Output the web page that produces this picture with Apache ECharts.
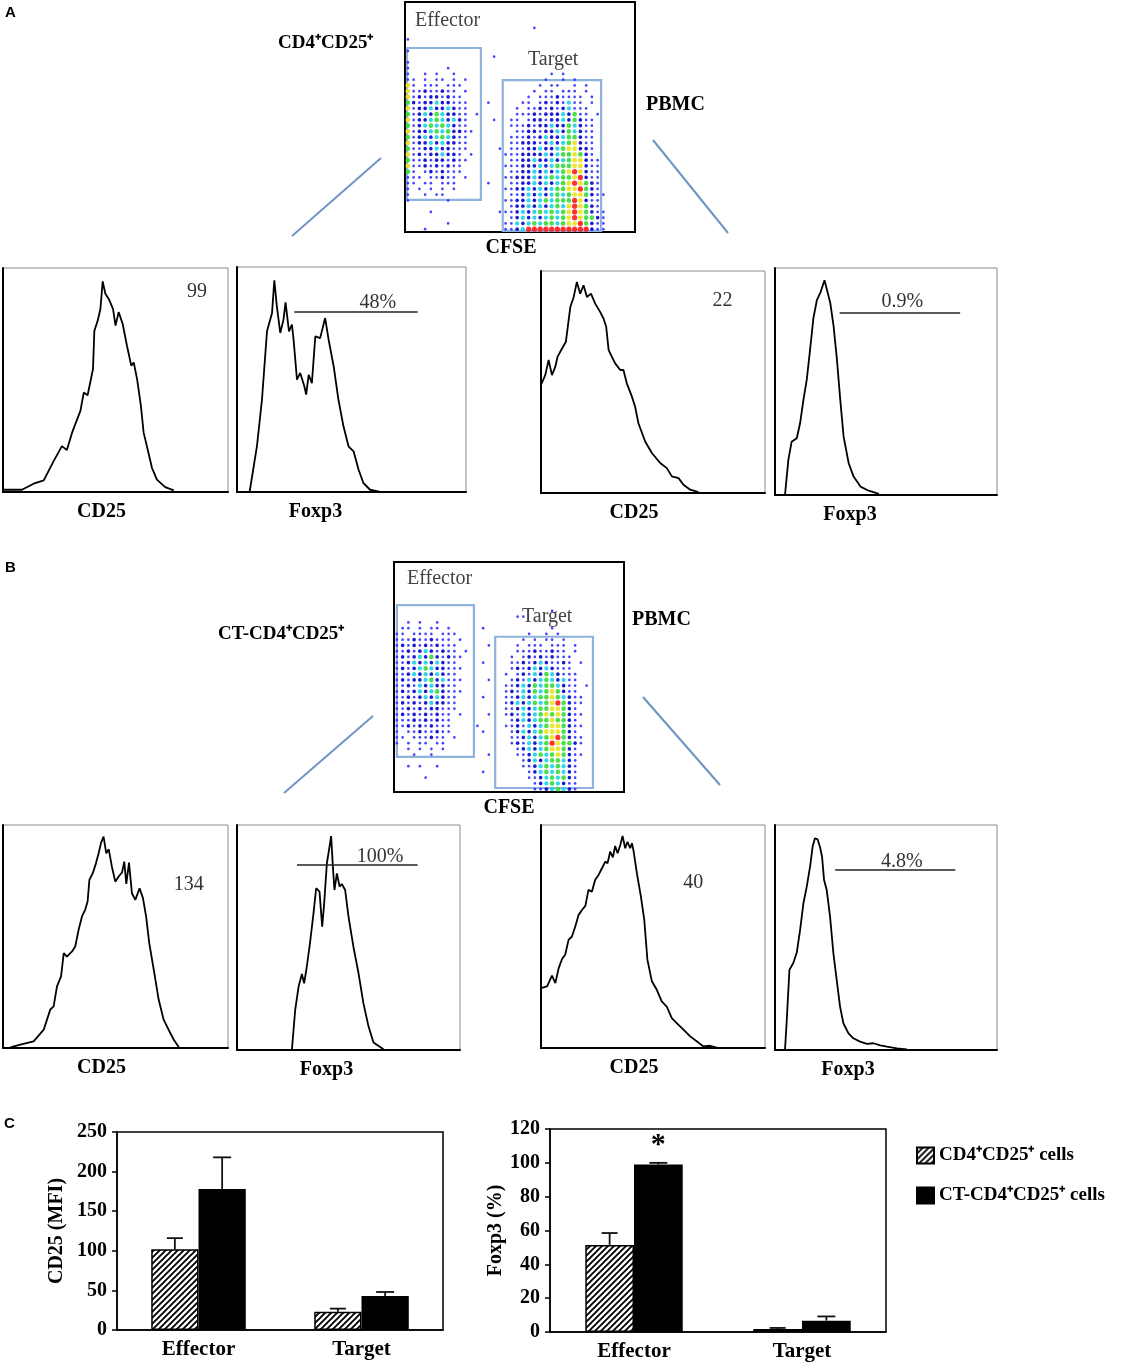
<!DOCTYPE html>
<html><head><meta charset="utf-8">
<script src="https://cdn.jsdelivr.net/npm/echarts@6/dist/echarts.min.js"></script>
<style>html,body{margin:0;padding:0;background:#fff}#c{width:1121px;height:1367px}</style>
</head><body><div id="c"></div>
<script>
// ---------------- DATA ----------------
// Histograms: [fluorescence channel (0-100 of axis), % of max]
const histA_CD25_eff = [[0,1],[8.4,1],[13.6,3.7],[18.1,5.2],[22.5,13.8],[26.2,20.5],[28.4,18.7],[30.7,26.5],[34.4,36.2],[35.9,44.4],[37.6,43.2],[40,54.9],[40.6,72],[42.1,76.5],[43.3,81.8],[44.3,94],[45.5,88.5],[47,86.2],[48.9,81.8],[50,74.3],[51.4,80.3],[53.2,75],[55.1,65.3],[57,56.4],[58.1,57.8],[59.6,50.4],[61.3,38.4],[62.5,26.5],[64.3,19],[66.2,10.8],[68.4,5.5],[72.1,2.2],[75.9,0.7]];
const histA_Foxp3_eff = [[5.5,0],[8.7,20.3],[10.9,41],[13.1,71.4],[15.3,79.6],[16.3,94.1],[17.4,82.5],[18.9,70.7],[20.3,76.6],[21.2,84.3],[22.7,71.4],[24,74.4],[24.7,67.7],[26.2,49.9],[27.6,52.9],[29.4,47],[30.2,43.3],[31.3,52.1],[32.7,48.4],[34.2,69.2],[36.3,68.4],[38.5,77.3],[40,67.7],[42.2,55.9],[44.3,41],[46.5,29.2],[48.7,20.3],[50.9,18.1],[53.1,9.9],[55.2,4],[58.1,1],[62.5,0]];
const histA_CD25_tgt = [[0,0],[0,48.7],[1.9,53.1],[3.4,59.9],[4.9,53.1],[6.4,56.9],[7.4,61.4],[9.4,65.1],[11.1,68.1],[13.1,83.8],[14.6,88.3],[16,95.1],[17.5,89.8],[19,93.6],[20.5,88.3],[22.3,89.8],[24.2,85.3],[26.4,81.6],[27.9,78.6],[29.1,74.9],[30.2,64.4],[33.1,58.4],[35.4,55.4],[36.8,55.4],[38.3,49.4],[40.6,43.4],[42,38.9],[43.5,31.4],[46.5,23.2],[49.5,18],[53.2,13.5],[56.2,11.2],[58.4,7.5],[61.4,6.7],[63.6,3.7],[66.6,1.5],[70.3,0.4]];
const histA_Foxp3_tgt = [[4.5,0],[6,15.4],[7.5,23.5],[9.8,25],[11.3,31.6],[12.8,41.9],[14.3,50.7],[15.8,64],[17.3,77.9],[18.9,86],[20.4,89],[22.3,94.6],[23.4,90.4],[24.9,84.6],[26.4,74.3],[27.9,59.6],[29.4,41.9],[30.9,25.7],[33.2,14],[35.4,8.1],[38.5,3.7],[42.2,1.9],[46.8,0.5]];
const histB_CD25_eff = [[3.3,0.3],[7.7,1.5],[13.6,3],[18.1,8.2],[21,17.2],[22.5,18.7],[24,27.6],[25.8,32.1],[27,42.5],[28.4,41],[30.7,43.3],[32.1,45.5],[33.6,53],[35.1,59],[36.6,62.2],[37.6,65.7],[38.4,75.4],[39.9,78.4],[41.3,82.8],[42.5,87.3],[43.6,92.1],[44.7,94.8],[45.9,87.3],[47,89.1],[48.4,81.3],[49.9,74.6],[51.4,76.9],[52.9,78.7],[53.9,83.6],[54.8,73.6],[56,83.1],[57.3,69.4],[58.8,66.4],[60.7,71.6],[62.2,67.2],[63.6,59],[65,47],[67,35.1],[69.2,21.6],[71.4,12.7],[73.6,8.2],[75.9,3.7],[78.1,0.4]];
const histB_Foxp3_eff = [[24.6,0],[26.1,17.8],[27.6,28.1],[29.1,33.8],[30.1,29.6],[31.3,37],[32.8,48.1],[34.3,60.7],[35.5,71.9],[37,70.4],[38.2,54.8],[39.1,65.2],[40.3,83],[41.5,90.4],[42.2,95.1],[43,81.5],[43.7,71.1],[44.8,78.5],[46,72.6],[47,73.8],[48.5,71.1],[50,59.3],[52.2,45.9],[54.5,34.1],[56.7,20.7],[59,10.4],[61.2,3.3],[65.7,0.3]];
const histB_CD25_tgt = [[0,0],[0,26.9],[2.7,27.6],[4.9,32.4],[6.4,29.1],[7.9,35.8],[9.4,39.9],[10.8,41.8],[12.3,48.5],[13.8,50],[15.3,54.5],[16.8,59.7],[18.3,61.9],[19.8,63.7],[21.2,70.9],[22.7,70.1],[24.2,75.4],[25.7,77.6],[27.2,80.6],[28.7,83.6],[29.7,82.8],[30.9,88.1],[32.1,85.5],[33.1,90.6],[34.2,87.3],[35.4,91],[36.4,95.1],[37.6,89.6],[38.6,92.5],[39.8,89.6],[40.6,91.8],[41.3,88.5],[42.8,78.4],[44.6,67.9],[46.1,57.5],[47.5,39.6],[49.5,29.9],[51.7,26.1],[53.9,20.9],[56.2,18.4],[58.4,13.4],[60.6,11.2],[63.6,8.2],[66.6,5.2],[69.5,3],[72.5,0.7],[75.5,1],[78.8,0.1]];
const histB_Foxp3_tgt = [[4.5,0],[5.3,13.3],[6.5,35.6],[8.3,38.8],[9.8,43.3],[11.3,53.3],[12.8,65.2],[14.3,72.6],[15.8,81.5],[17,90.7],[18,94.1],[19.2,93.6],[20.3,90.1],[21.2,85.9],[22.1,75.6],[23.3,71.1],[24.8,59.3],[26.3,43],[27.8,31.1],[29.3,19.3],[30.8,11.9],[33.1,7.4],[35.3,5.2],[38.3,3.7],[41.4,2.7],[44.4,3],[47.4,2.1],[50.4,1.5],[54.9,0.7],[59.4,0.3]];

// MFI of CD25 and % Foxp3+ shown on histograms
const cd25MFI = [99, 22, 134, 40];          // A eff, A tgt, B eff, B tgt
const foxp3Pct = ['48%', '0.9%', '100%', '4.8%'];

// Dot plots (CFSE vs SSC) as density maps; row 0 = top, 40x40 cells
// '.' none, b sparse blue, B blue, c cyan, g green, y yellow, r red
const LEVELS = '.bBcgyr';
const dotA_eff = ['','','','','','','b','','b','','b','b......b','b..b.b..b','bb.b.bb.b.b','yb.bbb.bbb','ybbBbbBbb.b','ybBbBBbBbb','gBbBBcBBbbb','ybBBcBBcBbb','gbBcBgcBBbb.b','ybBBcgcBcBb','gbBcgcgcBbb','ybBBcgcgBBbb','gbBcBcgcBbb','ybBBcBcBBbb','gbbBBcBBbbb','ybBbBBcBBb.b','gbbBbBBbBbb','ybbBbBbBbb','gb.bBbBbbb','bbb.bbBbb.b','bb.bb.bbb','b.b.b.b.b','b..b.bb','b......b','','....b','','.......b','...b'];
const dotA_tgt = ['','','','','','','','','','','','','........b.b','.......b..b.b','......b.bb..b.b','.....b.bb.bbb.b','....b.bbbBbbbb.b','...bb.bBbBbcbb.b','..b.bbBbBbBcbbb','..bbbBbBBBcBgbb.b','.bb.bBBbBBcBgBbb','.bbbBbBBcBBgcBbb','..bbBBbBBcBgcBbb','.bbbBbBcBBcggBbb','.bbBBBbBcBcgyBbb','.bbbBBcBBcgyyBBb','bbbBBBBcBcggygBb','.bbBBcBBcBcgyyBbb','bbbBBBcBcgggyyBbb','.bbBBcBcBcgyryBbb','bbBBBcBcgcggyrBbb','.bbBBcBcBcgyrygBb','bbBBcBcBcggyyrgBb','.bbBcBcBcgcgyygBbb','bbBBcBcgcgggryBbb','.bBBcBcBcgcyrygBb','bbBcBcgcgcgyrygBbb','.bBcBcBcgcgyryggBb','bbcBcgcggcgyyrgBbb','bbBcrrrrrrrrrrrBbb'];
const dotA_stray = [[15,9],[22,4],[14,17],[15,20],[16,25],[14,31],[16,36]];
const dotB_eff = ['','','','','','','','','','','..b.b..b','.bb.b.bb.b','bb.bbbb.bbb','bbbBbbBbbb.b','bBbBbBbBbbb','bbBbBcBbBbb.b','bBbBcBgBbBbb','bbBcBcBcBbb','bBbBcgcBBbbb','bbBcBcBcBbb','bBbBBcgBcbbb','bbBbcBcBBbb','bBbBcBcgBbbb','bbBbBcBcBbb','bBbBbBcBBbb','bbBbBbBBbbb','bBbBbBbBbb.b','bbbBbBbBbb','bbBbBbBbbb','b.bbBbbBbb','bb.bbbBbb.b','b.b.bb.bb','..b.b.b.b','...b..b','','..b.b..b','','.....b','',''];
const dotB_tgt = ['','','','','','','','','..........b','.....b','','..........b','......b..b.b','.....b.b.bb.b','....b.bbb.bbb.b','....bbbBbbBbb.b','...b.bBbBbBbbb','...bbBbBcBbbBb.b','...bBbBcBcBbbb','..b.bBbcBgcBbbb','...bBbcBcgcBcbb','..bbBcBgcggcBbb.b','..bBbcBgcgygBbb','..bbBcBcggygcBbb','..bBcBcgcgyrgBbb','..bbBcBcggyygBb','..bBbcBcgygygBbb','...bBcBcggyggBb','..bbBbcBcgyygBbb','...bBcBcgyyygBb','...bbBcBcgyrgBbb','...bBbcBcgryggBb','....bBcBcgyygBb','....bbBcgcgygBbb','.....bBcBcggcBb','.....bbBcgcgcBb','......bBcgcgcBb','......bbBcgcgBb','.......bBcgcBbb','.......bbBcgcBb'];
const dotB_stray = [[15,11],[16,14],[15,17],[16,20],[15,23],[16,26],[15,29],[14,28],[16,33],[15,36],[21,9]];

// Bar charts (panel C)
const categories = ['Effector', 'Target'];
const cd25_ctrl = [102, 23],   cd25_ctrl_err = [14, 4];
const cd25_ct   = [178, 43],   cd25_ct_err   = [40, 5];
const foxp3_ctrl = [51.5, 1.8], foxp3_ctrl_err = [7, 0.6];
const foxp3_ct   = [99, 6.7],   foxp3_ct_err   = [1, 2.5];
const foxp3_sig = ['*', ''];
const cd25_sig = ['', ''];
const cd25Ticks = [0, 250, 50];
const foxp3Ticks = [0, 120, 20];
const seriesNames = ['CD4\u207aCD25\u207a cells', 'CT-CD4\u207aCD25\u207a cells'];

// ---------------- BUILD ----------------
const SERIF = '"Liberation Serif", "Times New Roman", serif';
const SANS = '"Liberation Sans", Arial, sans-serif';

function buildDots(effRows, tgtRows, stray) {
  const out = [];
  const add = (rows, off) => rows.forEach((s, r) => {
    for (let i = 0; i < s.length; i++) {
      const lv = LEVELS.indexOf(s[i]);
      if (lv > 0) out.push([off + i + 0.5, 40 - r - 0.5, lv]);
    }
  });
  add(effRows, 0); add(tgtRows, 17);
  stray.forEach(p => out.push([p[0] + 0.5, 40 - p[1] - 0.5, 1]));
  return out;
}
const dotColors = [null, '#3030ff', '#0000d0', '#18d2e6', '#3ada3a', '#ece21c', '#ff1a1a'];
const dotSizes = [0, 2.6, 3.6, 4.2, 4.6, 4.8, 5.2];

const hists = [
  {data: histA_CD25_eff, box: [3, 268, 225, 224], name: 'CD25', shift: 14, note: [String(cd25MFI[0]), 86.2, 89.2]},
  {data: histA_Foxp3_eff, box: [237, 267, 229, 225], name: 'Foxp3', shift: 36, gate: [25, 78.9, 80], note: [foxp3Pct[0], 61.5, 84]},
  {data: histA_CD25_tgt, box: [541, 271, 224, 222], name: 'CD25', shift: 19, note: [String(cd25MFI[1]), 81, 86.8]},
  {data: histA_Foxp3_tgt, box: [775, 268, 222, 227], name: 'Foxp3', shift: 36, gate: [29.1, 83.4, 80.4], note: [foxp3Pct[1], 57.3, 85.3]},
  {data: histB_CD25_eff, box: [3, 825, 225, 223], name: 'CD25', shift: 14, note: [String(cd25MFI[2]), 82.5, 73.1]},
  {data: histB_Foxp3_eff, box: [237, 825, 223, 225], name: 'Foxp3', shift: 22, gate: [26.9, 81, 82.2], note: [foxp3Pct[2], 64.2, 85.9]},
  {data: histB_CD25_tgt, box: [541, 825, 224, 223], name: 'CD25', shift: 19, note: [String(cd25MFI[3]), 68, 73.9]},
  {data: histB_Foxp3_tgt, box: [775, 825, 222, 225], name: 'Foxp3', shift: 38, gate: [27.1, 81.2, 80.3], note: [foxp3Pct[3], 57.1, 83.7]}
];

const grid = [], xAxis = [], yAxis = [], series = [];
const hiddenValAxis = (gi, extra) => Object.assign({
  gridIndex: gi, type: 'value', min: 0, max: 100,
  axisLabel: {show: false}, axisTick: {show: false}, splitLine: {show: false},
  axisLine: {show: true, lineStyle: {color: '#000', width: 2}}
}, extra || {});

hists.forEach((h, i) => {
  grid.push({left: h.box[0], top: h.box[1], width: h.box[2], height: h.box[3], show: true, borderColor: '#8a8a8a', borderWidth: 1, outerBoundsMode: 'none'});
  xAxis.push(hiddenValAxis(i, {name: h.name, nameLocation: 'middle', nameGap: 10,
    nameTextStyle: {fontFamily: SERIF, fontWeight: 'bold', fontSize: 20, color: '#000', padding: [0, h.shift * 2, 0, 0]}}));
  yAxis.push(hiddenValAxis(i));
  const s = {type: 'line', xAxisIndex: i, yAxisIndex: i, data: h.data, showSymbol: false, silent: true,
    lineStyle: {color: '#000', width: 1.8}, itemStyle: {color: '#000'},
    markPoint: {symbol: 'rect', symbolSize: 1, silent: true, itemStyle: {color: 'rgba(0,0,0,0)'},
      label: {show: true, position: 'inside', formatter: h.note[0], color: '#333', fontFamily: SERIF, fontSize: 20},
      data: [{coord: [h.note[1], h.note[2]], value: h.note[0]}]}};
  if (h.gate) s.markLine = {symbol: 'none', silent: true, label: {show: false},
    lineStyle: {color: '#222', width: 1.6, type: 'solid'},
    data: [[{coord: [h.gate[0], h.gate[2]]}, {coord: [h.gate[1], h.gate[2]]}]]};
  series.push(s);
});

// dot plots
const dots = [
  {data: buildDots(dotA_eff, dotA_tgt, dotA_stray), box: [405, 2, 230, 230], shift: 9,
   gates: [[0.35, 5.6, 13.2, 32], [17, 0.2, 34.1, 26.4]]},
  {data: buildDots(dotB_eff, dotB_tgt, dotB_stray), box: [394, 562, 230, 230], shift: 0,
   gates: [[0.5, 6.1, 13.9, 32.5], [17.6, 0.7, 34.6, 27]]}
];
dots.forEach((d, k) => {
  const gi = 8 + k;
  grid.push({left: d.box[0], top: d.box[1], width: d.box[2], height: d.box[3], show: true, borderColor: '#000', borderWidth: 2, outerBoundsMode: 'none'});
  xAxis.push(hiddenValAxis(gi, {max: 40, name: 'CFSE', nameLocation: 'middle', nameGap: 6,
    nameTextStyle: {fontFamily: SERIF, fontWeight: 'bold', fontSize: 20, color: '#000', padding: [0, d.shift * 2, 0, 0]}}));
  yAxis.push(hiddenValAxis(gi, {max: 40}));
  series.push({type: 'scatter', xAxisIndex: gi, yAxisIndex: gi, data: d.data, silent: true,
    symbolSize: v => dotSizes[v[2]],
    itemStyle: {color: p => dotColors[p.value[2]], opacity: 0.9},
    markArea: {silent: true, itemStyle: {color: 'rgba(0,0,0,0)', borderColor: '#8fb2dc', borderWidth: 2.2},
      data: d.gates.map(g => [{coord: [g[0], g[1]]}, {coord: [g[2], g[3]]}])}});
});

// hatch pattern
const pc = document.createElement('canvas');
pc.width = 6; pc.height = 6;
const pctx = pc.getContext('2d');
pctx.fillStyle = '#fff'; pctx.fillRect(0, 0, 6, 6);
pctx.strokeStyle = '#000'; pctx.lineWidth = 1.9;
pctx.beginPath();
pctx.moveTo(0, 6); pctx.lineTo(6, 0);
pctx.moveTo(-1, 1); pctx.lineTo(1, -1);
pctx.moveTo(5, 7); pctx.lineTo(7, 5);
pctx.stroke();
const hatch = {image: pc, repeat: 'repeat'};

function errRender(sign, capW, sig) {
  return function (params, api) {
    const i = api.value(0), v = api.value(1), e = api.value(2);
    const base = api.coord([i, v]), top = api.coord([i, v + e]);
    const band = api.size([1, 0])[0];
    const x = base[0] + sign * band * 0.145;
    const st = {stroke: '#111', lineWidth: 1.8};
    const ch = [
      {type: 'line', shape: {x1: x, y1: base[1], x2: x, y2: top[1]}, style: st},
      {type: 'line', shape: {x1: x - capW / 2, y1: top[1], x2: x + capW / 2, y2: top[1]}, style: st}
    ];
    if (sig[i]) ch.push({type: 'text', style: {text: sig[i], x: x, y: top[1] - 3, align: 'center', verticalAlign: 'bottom', font: 'bold 30px ' + SERIF, fill: '#000'}});
    return {type: 'group', children: ch};
  };
}

const bars = [
  {box: [117, 1132, 326, 198], ticks: cd25Ticks, title: 'CD25 (MFI)', gap: 50,
   ctrl: cd25_ctrl, ctrlErr: cd25_ctrl_err, ct: cd25_ct, ctErr: cd25_ct_err, sig: cd25_sig},
  {box: [550, 1129, 336, 203], ticks: foxp3Ticks, title: 'Foxp3 (%)', gap: 44,
   ctrl: foxp3_ctrl, ctrlErr: foxp3_ctrl_err, ct: foxp3_ct, ctErr: foxp3_ct_err, sig: foxp3_sig}
];
bars.forEach((b, k) => {
  const gi = 10 + k;
  grid.push({left: b.box[0], top: b.box[1], width: b.box[2], height: b.box[3], show: true, borderColor: '#000', borderWidth: 1.5, outerBoundsMode: 'none'});
  xAxis.push({gridIndex: gi, type: 'category', data: categories,
    axisTick: {show: false}, axisLine: {lineStyle: {color: '#000', width: 1.5}},
    axisLabel: {fontFamily: SERIF, fontWeight: 'bold', fontSize: 21, color: '#000', margin: 9}});
  yAxis.push({gridIndex: gi, type: 'value', min: b.ticks[0], max: b.ticks[1], interval: b.ticks[2],
    splitLine: {show: false}, axisLine: {show: true, lineStyle: {color: '#000', width: 1.5}},
    axisTick: {show: true, length: 5, lineStyle: {color: '#000', width: 1.5}},
    axisLabel: {fontFamily: SERIF, fontWeight: 'bold', fontSize: 20, color: '#000', margin: 10},
    name: b.title, nameLocation: 'middle', nameGap: b.gap, nameRotate: 90,
    nameTextStyle: {fontFamily: SERIF, fontWeight: 'bold', fontSize: 20, color: '#000'}});
  series.push({type: 'bar', name: seriesNames[0], xAxisIndex: gi, yAxisIndex: gi, data: b.ctrl,
    barGap: '0%', barCategoryGap: '42%', silent: true,
    itemStyle: {color: hatch, borderColor: '#000', borderWidth: 1.5}});
  series.push({type: 'bar', name: seriesNames[1], xAxisIndex: gi, yAxisIndex: gi, data: b.ct,
    barGap: '0%', barCategoryGap: '42%', silent: true,
    itemStyle: {color: '#000', borderColor: '#000', borderWidth: 1.5}});
  series.push({type: 'custom', xAxisIndex: gi, yAxisIndex: gi, z: 5, silent: true,
    renderItem: errRender(-1, 16, ['', '']), encode: {x: 0, y: 1},
    data: categories.map((c, i) => [i, b.ctrl[i], b.ctrlErr[i]])});
  series.push({type: 'custom', xAxisIndex: gi, yAxisIndex: gi, z: 5, silent: true,
    renderItem: errRender(1, 18, b.sig), encode: {x: 0, y: 1},
    data: categories.map((c, i) => [i, b.ct[i], b.ctErr[i]])});
});

const txt = (x, y, text, font, fill) => ({type: 'text', x: x, y: y, silent: true,
  style: {text: text, font: font, fill: fill || '#000', verticalAlign: 'middle'}});
const ln = (x1, y1, x2, y2) => ({type: 'line', silent: true, shape: {x1, y1, x2, y2}, style: {stroke: '#7194c6', lineWidth: 2}});
const B20 = 'bold 20px ' + SERIF, R20 = '20px ' + SERIF;

const option = {
  animation: false,
  backgroundColor: '#fff',
  grid, xAxis, yAxis, series,
  legend: {orient: 'vertical', left: 911, top: 1141, itemWidth: 17, itemHeight: 16, itemGap: 21,
    icon: 'rect', selectedMode: false, data: seriesNames,
    textStyle: {fontFamily: SERIF, fontWeight: 'bold', fontSize: 19, color: '#000'}},
  graphic: [
    txt(5, 13, 'A', 'bold 15px ' + SANS),
    txt(5, 568, 'B', 'bold 15px ' + SANS),
    txt(4, 1124, 'C', 'bold 15px ' + SANS),
    txt(278, 43, 'CD4\u207aCD25\u207a', 'bold 19px ' + SERIF),
    txt(646, 105, 'PBMC', B20),
    txt(415, 21, 'Effector', R20, '#444'),
    txt(528, 60, 'Target', R20, '#444'),
    txt(218, 634, 'CT-CD4\u207aCD25\u207a', 'bold 19px ' + SERIF),
    txt(632, 620, 'PBMC', B20),
    txt(407, 579, 'Effector', R20, '#444'),
    txt(522, 617, 'Target', R20, '#444'),
    ln(381, 158, 292, 236), ln(653, 140, 728, 233),
    ln(373, 716, 284, 793), ln(643, 697, 720, 785)
  ]
};
const chart = echarts.init(document.getElementById('c'), null, {renderer: 'canvas'});
chart.setOption(option);
</script></body></html>
